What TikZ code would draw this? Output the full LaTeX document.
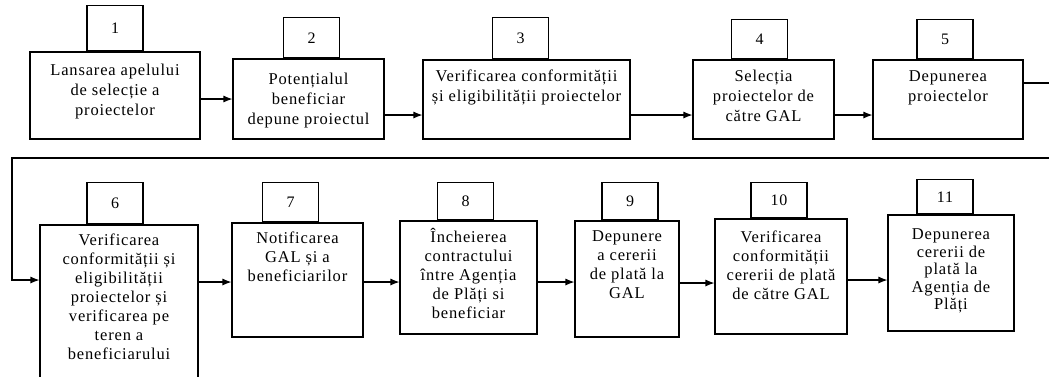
\documentclass[tikz,border=0pt]{standalone}
\usepackage{fontspec}
\setmainfont{Liberation Serif}[LetterSpace=5]
\usetikzlibrary{positioning, arrows.meta}

\begin{document}
\begin{tikzpicture}[x=1pt, y=-1pt, >={Latex[length=9pt,width=7pt]}, line width=1.1pt,
		box/.style={draw, inner sep=0pt},
		numbox/.style={draw, minimum width=56pt, minimum height=39pt, inner sep=0pt, font=\fontsize{16}{18}\selectfont},
		txt/.style={align=center, inner sep=0pt, font=\fontsize{16.5}{20}\selectfont},
		txtb/.style={txt, font=\fontsize{16.5}{19}\selectfont}]
			
			\useasboundingbox (0,0) rectangle (1049,376);
			\clip (0,0) rectangle (1049,376);
			
			% Draw rectangles, first row
			\node (b1) [box, minimum width=170pt, minimum height=87pt] at (115,95.5) {};
			\node (b2) [box, minimum width=151pt, minimum height=80pt] at (308.5,99) {};
			\node (b3) [box, minimum width=207pt, minimum height=79pt] at (526.5,99.5) {};
			\node (b4) [box, minimum width=141pt, minimum height=79pt] at (763.5,99.5) {};
			\node (b5) [box, minimum width=150pt, minimum height=79pt] at (948,99.5) {};
			
			% Draw rectangles, second row
			\node (b6) [box, minimum width=158pt, minimum height=170pt] at (119,310) {};
			\node (b7) [box, minimum width=131pt, minimum height=114pt] at (297.5,280) {};
			\node (b8) [box, minimum width=137pt, minimum height=113pt] at (468.5,277.5) {};
			\node (b9) [box, minimum width=104pt, minimum height=116pt] at (627,279) {};
			\node (b10) [box, minimum width=132pt, minimum height=115pt] at (781,276.5) {};
			\node (b11) [box, minimum width=126pt, minimum height=116pt] at (951,273) {};
			
			% Numbers
			\node (n1) [numbox, minimum height=45pt, above=0pt of b1] {1};
			\node (n2) [numbox, minimum height=40pt, above=0pt of b2, xshift=3pt] {2};
			\node (n3) [numbox, minimum height=41pt, above=0pt of b3, xshift=-6pt] {3};
			\node (n4) [numbox, above=0pt of b4, xshift=-4pt] {4};
			\node (n5) [numbox, above=0pt of b5, xshift=-3pt] {5};
			\node (n6) [numbox, minimum height=41pt, above=0pt of b6, xshift=-4pt] {6};
			\node (n7) [numbox, above=0pt of b7, xshift=-7pt] {7};
			\node (n8) [numbox, minimum height=37pt, above=0pt of b8, xshift=-3pt] {8};
			\node (n9) [numbox, minimum height=37pt, above=0pt of b9, xshift=3pt] {9};
			\node (n10) [numbox, minimum height=35pt, above=0pt of b10, xshift=-2pt] {10};
			\node (n11) [numbox, minimum height=34pt, above=0pt of b11, xshift=-6pt] {11};
			
			% Texts
			\node (t1) [txt, below=12pt of b1.north] {Lansarea apelului\\de selecție a\\proiectelor};
			\node (t2) [txt, below=14pt of b2.north] {Potențialul\\beneficiar\\depune proiectul};
			\node (t3) [txt, below=10pt of b3.north] {Verificarea conformității\\și eligibilității proiectelor};
			\node (t4) [txt, below=10pt of b4.north] {Selecția\\proiectelor de\\către GAL};
			\node (t5) [txt, below=11pt of b5.north] {Depunerea\\proiectelor};
			\node (t6) [txtb, below=9pt of b6.north] {Verificarea\\conformității și\\eligibilității\\proiectelor și\\verificarea pe\\teren a\\beneficiarului};
			\node (t7) [txtb, below=9pt of b7.north] {Notificarea\\GAL și a\\beneficiarilor};
			\node (t8) [txtb, below=7pt of b8.north] {Încheierea\\contractului\\între Agenția\\de Plăți si\\beneficiar};
			\node (t9) [txtb, below=10pt of b9.north] {Depunere\\a cererii\\de plată la\\GAL};
			\node (t10) [txtb, below=12pt of b10.north] {Verificarea\\conformității\\cererii de plată\\de către GAL};
			\node (t11) [txtb, below=14pt of b11.north, font=\fontsize{16.5}{17.5}\selectfont] {Depunerea\\cererii de\\plată la\\Agenția de\\Plăți};
			
			% Draw arrows
			\draw[->] ([yshift=-3.5pt]b1.east) -- ([yshift=-3.5pt]b1.east -| b2.west);
			\draw[->] ([yshift=-16pt]b2.east) -- ([yshift=-16pt]b2.east -| b3.west);
			\draw[->] ([yshift=-15.5pt]b3.east) -- ([yshift=-15.5pt]b3.east -| b4.west);
			\draw[->] ([yshift=-15.5pt]b4.east) -- ([yshift=-15.5pt]b4.east -| b5.west);
			
			\coordinate (turnR) at (1062,158);
			\coordinate (turnL) at (12,158);
			\draw[->] ([yshift=16.5pt]b5.east) -| (turnR) -- (turnL) |- ([yshift=30pt]b6.west);
			
			\draw[->] ([yshift=28pt]b6.east) -- ([yshift=28pt]b6.east -| b7.west);
			\draw[->] ([yshift=-2pt]b7.east) -- ([yshift=-2pt]b7.east -| b8.west);
			\draw[->] ([yshift=-4.5pt]b8.east) -- ([yshift=-4.5pt]b8.east -| b9.west);
			\draw[->] ([yshift=-4pt]b9.east) -- ([yshift=-4pt]b9.east -| b10.west);
			\draw[->] ([yshift=-3.5pt]b10.east) -- ([yshift=-3.5pt]b10.east -| b11.west);
			
		\end{tikzpicture}
\end{document}
